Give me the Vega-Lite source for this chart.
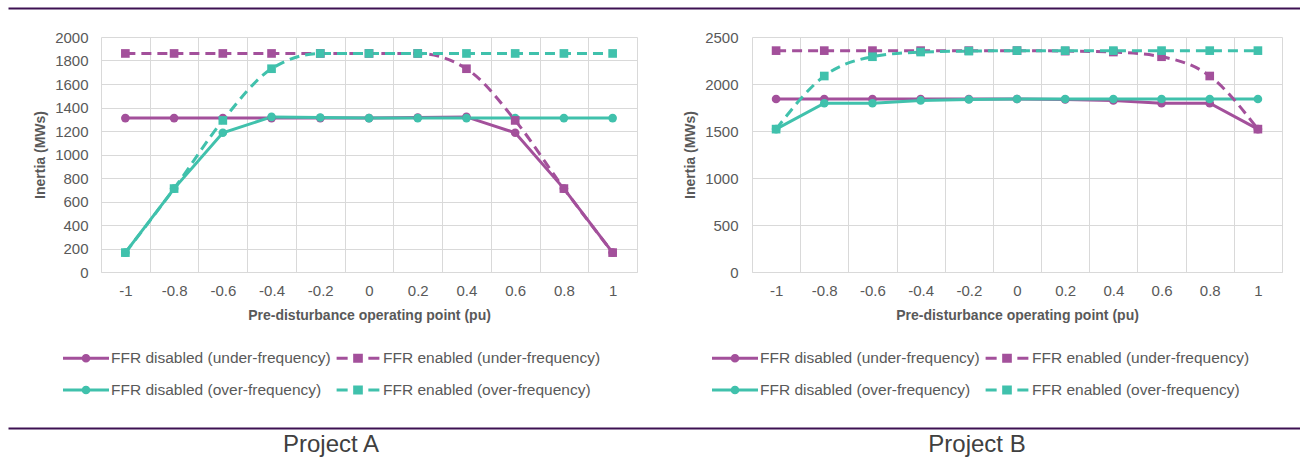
{
  "$schema": "https://vega.github.io/schema/vega-lite/v6.json",
  "padding": {"left": 8, "top": 8, "right": 0, "bottom": 0},
  "background": "white",
  "config": {
    "font": "Liberation Sans",
    "view": {"stroke": null},
    "axis": {
      "labelFont": "Liberation Sans",
      "titleFont": "Liberation Sans",
      "labelColor": "#595959",
      "titleColor": "#595959",
      "labelFontSize": 15,
      "titleFontSize": 14,
      "titleFontWeight": "bold",
      "gridColor": "#D9D9D9",
      "domainColor": "#D9D9D9",
      "ticks": false,
      "tickSize": 0
    },
    "legend": {
      "labelFont": "Liberation Sans",
      "labelFontSize": 15.5,
      "labelColor": "#595959"
    }
  },
  "datasets": {
    "A": [
      {"pu": -1, "series": "FFR disabled (under-frequency)", "inertia": 1310},
      {"pu": -0.8, "series": "FFR disabled (under-frequency)", "inertia": 1310},
      {"pu": -0.6, "series": "FFR disabled (under-frequency)", "inertia": 1310},
      {"pu": -0.4, "series": "FFR disabled (under-frequency)", "inertia": 1310},
      {"pu": -0.2, "series": "FFR disabled (under-frequency)", "inertia": 1310},
      {"pu": 0, "series": "FFR disabled (under-frequency)", "inertia": 1310},
      {"pu": 0.2, "series": "FFR disabled (under-frequency)", "inertia": 1315},
      {"pu": 0.4, "series": "FFR disabled (under-frequency)", "inertia": 1320},
      {"pu": 0.6, "series": "FFR disabled (under-frequency)", "inertia": 1185},
      {"pu": 0.8, "series": "FFR disabled (under-frequency)", "inertia": 710},
      {"pu": 1, "series": "FFR disabled (under-frequency)", "inertia": 165},
      {"pu": -1, "series": "FFR enabled (under-frequency)", "inertia": 1860},
      {"pu": -0.8, "series": "FFR enabled (under-frequency)", "inertia": 1860},
      {"pu": -0.6, "series": "FFR enabled (under-frequency)", "inertia": 1860},
      {"pu": -0.4, "series": "FFR enabled (under-frequency)", "inertia": 1860},
      {"pu": -0.2, "series": "FFR enabled (under-frequency)", "inertia": 1860},
      {"pu": 0, "series": "FFR enabled (under-frequency)", "inertia": 1860},
      {"pu": 0.2, "series": "FFR enabled (under-frequency)", "inertia": 1860},
      {"pu": 0.4, "series": "FFR enabled (under-frequency)", "inertia": 1730},
      {"pu": 0.6, "series": "FFR enabled (under-frequency)", "inertia": 1290},
      {"pu": 0.8, "series": "FFR enabled (under-frequency)", "inertia": 710},
      {"pu": 1, "series": "FFR enabled (under-frequency)", "inertia": 165},
      {"pu": -1, "series": "FFR disabled (over-frequency)", "inertia": 165},
      {"pu": -0.8, "series": "FFR disabled (over-frequency)", "inertia": 710},
      {"pu": -0.6, "series": "FFR disabled (over-frequency)", "inertia": 1185},
      {"pu": -0.4, "series": "FFR disabled (over-frequency)", "inertia": 1320},
      {"pu": -0.2, "series": "FFR disabled (over-frequency)", "inertia": 1315},
      {"pu": 0, "series": "FFR disabled (over-frequency)", "inertia": 1310},
      {"pu": 0.2, "series": "FFR disabled (over-frequency)", "inertia": 1310},
      {"pu": 0.4, "series": "FFR disabled (over-frequency)", "inertia": 1310},
      {"pu": 0.6, "series": "FFR disabled (over-frequency)", "inertia": 1310},
      {"pu": 0.8, "series": "FFR disabled (over-frequency)", "inertia": 1310},
      {"pu": 1, "series": "FFR disabled (over-frequency)", "inertia": 1310},
      {"pu": -1, "series": "FFR enabled (over-frequency)", "inertia": 165},
      {"pu": -0.8, "series": "FFR enabled (over-frequency)", "inertia": 710},
      {"pu": -0.6, "series": "FFR enabled (over-frequency)", "inertia": 1290},
      {"pu": -0.4, "series": "FFR enabled (over-frequency)", "inertia": 1730},
      {"pu": -0.2, "series": "FFR enabled (over-frequency)", "inertia": 1860},
      {"pu": 0, "series": "FFR enabled (over-frequency)", "inertia": 1860},
      {"pu": 0.2, "series": "FFR enabled (over-frequency)", "inertia": 1860},
      {"pu": 0.4, "series": "FFR enabled (over-frequency)", "inertia": 1860},
      {"pu": 0.6, "series": "FFR enabled (over-frequency)", "inertia": 1860},
      {"pu": 0.8, "series": "FFR enabled (over-frequency)", "inertia": 1860},
      {"pu": 1, "series": "FFR enabled (over-frequency)", "inertia": 1860}
    ],
    "B": [
      {"pu": -1, "series": "FFR disabled (under-frequency)", "inertia": 1840},
      {"pu": -0.8, "series": "FFR disabled (under-frequency)", "inertia": 1840},
      {"pu": -0.6, "series": "FFR disabled (under-frequency)", "inertia": 1840},
      {"pu": -0.4, "series": "FFR disabled (under-frequency)", "inertia": 1840},
      {"pu": -0.2, "series": "FFR disabled (under-frequency)", "inertia": 1840},
      {"pu": 0, "series": "FFR disabled (under-frequency)", "inertia": 1840},
      {"pu": 0.2, "series": "FFR disabled (under-frequency)", "inertia": 1835},
      {"pu": 0.4, "series": "FFR disabled (under-frequency)", "inertia": 1825},
      {"pu": 0.6, "series": "FFR disabled (under-frequency)", "inertia": 1795},
      {"pu": 0.8, "series": "FFR disabled (under-frequency)", "inertia": 1795},
      {"pu": 1, "series": "FFR disabled (under-frequency)", "inertia": 1520},
      {"pu": -1, "series": "FFR enabled (under-frequency)", "inertia": 2355},
      {"pu": -0.8, "series": "FFR enabled (under-frequency)", "inertia": 2355},
      {"pu": -0.6, "series": "FFR enabled (under-frequency)", "inertia": 2355},
      {"pu": -0.4, "series": "FFR enabled (under-frequency)", "inertia": 2355},
      {"pu": -0.2, "series": "FFR enabled (under-frequency)", "inertia": 2355},
      {"pu": 0, "series": "FFR enabled (under-frequency)", "inertia": 2355},
      {"pu": 0.2, "series": "FFR enabled (under-frequency)", "inertia": 2350},
      {"pu": 0.4, "series": "FFR enabled (under-frequency)", "inertia": 2340},
      {"pu": 0.6, "series": "FFR enabled (under-frequency)", "inertia": 2290},
      {"pu": 0.8, "series": "FFR enabled (under-frequency)", "inertia": 2085},
      {"pu": 1, "series": "FFR enabled (under-frequency)", "inertia": 1520},
      {"pu": -1, "series": "FFR disabled (over-frequency)", "inertia": 1520},
      {"pu": -0.8, "series": "FFR disabled (over-frequency)", "inertia": 1795},
      {"pu": -0.6, "series": "FFR disabled (over-frequency)", "inertia": 1795},
      {"pu": -0.4, "series": "FFR disabled (over-frequency)", "inertia": 1825},
      {"pu": -0.2, "series": "FFR disabled (over-frequency)", "inertia": 1835},
      {"pu": 0, "series": "FFR disabled (over-frequency)", "inertia": 1840},
      {"pu": 0.2, "series": "FFR disabled (over-frequency)", "inertia": 1840},
      {"pu": 0.4, "series": "FFR disabled (over-frequency)", "inertia": 1840},
      {"pu": 0.6, "series": "FFR disabled (over-frequency)", "inertia": 1840},
      {"pu": 0.8, "series": "FFR disabled (over-frequency)", "inertia": 1840},
      {"pu": 1, "series": "FFR disabled (over-frequency)", "inertia": 1840},
      {"pu": -1, "series": "FFR enabled (over-frequency)", "inertia": 1520},
      {"pu": -0.8, "series": "FFR enabled (over-frequency)", "inertia": 2085},
      {"pu": -0.6, "series": "FFR enabled (over-frequency)", "inertia": 2290},
      {"pu": -0.4, "series": "FFR enabled (over-frequency)", "inertia": 2340},
      {"pu": -0.2, "series": "FFR enabled (over-frequency)", "inertia": 2350},
      {"pu": 0, "series": "FFR enabled (over-frequency)", "inertia": 2355},
      {"pu": 0.2, "series": "FFR enabled (over-frequency)", "inertia": 2355},
      {"pu": 0.4, "series": "FFR enabled (over-frequency)", "inertia": 2355},
      {"pu": 0.6, "series": "FFR enabled (over-frequency)", "inertia": 2355},
      {"pu": 0.8, "series": "FFR enabled (over-frequency)", "inertia": 2355},
      {"pu": 1, "series": "FFR enabled (over-frequency)", "inertia": 2355}
    ],
    "titles": [
      {"project": "Project A"},
      {"project": "Project B"}
    ],
    "none": []
  },
  "spacing": 29,
  "vconcat": [
    {
      "spacing": 21,
      "vconcat": [
        {
          "width": 1292,
          "height": 1,
          "data": {"name": "none"},
          "mark": "point",
          "encoding": {
            "x": {
              "field": "project",
              "type": "nominal",
              "scale": {"domain": ["Project A", "Project B"]},
              "axis": {"orient": "top", "labels": false, "grid": false, "title": null, "domainColor": "#3D1152", "domainWidth": 2}
            }
          }
        },
        {
          "spacing": 24,
          "hconcat": [
            {
              "width": 1,
              "height": 1,
              "data": {"name": "none"},
              "mark": "point"
            },
            {
              "spacing": 46,
              "resolve": {"scale": {"color": "independent", "x": "independent", "y": "independent"}, "legend": {"color": "independent"}},
              "hconcat": [
                {
                  "width": 536,
                  "height": 235,
                  "data": {"name": "A"},
                  "encoding": {
                    "x": {
                      "field": "pu",
                      "type": "ordinal",
                      "bandPosition": 0.5,
                      "scale": {"type": "band", "paddingInner": 0, "paddingOuter": 0},
                      "axis": {"title": "Pre-disturbance operating point (pu)", "tickBand": "extent", "grid": true, "labelAngle": 0, "labelPadding": 11, "titlePadding": 10}
                    },
                    "y": {
                      "field": "inertia",
                      "type": "quantitative",
                      "scale": {"domain": [0, 2000], "nice": false},
                      "axis": {"title": "Inertia (MWs)", "format": "d", "values": [0, 200, 400, 600, 800, 1000, 1200, 1400, 1600, 1800, 2000], "domain": false, "labelPadding": 13, "titlePadding": 7}
                    },
                    "color": {
                      "field": "series",
                      "type": "nominal",
                      "scale": {"domain": ["FFR disabled (under-frequency)", "FFR enabled (under-frequency)", "FFR disabled (over-frequency)", "FFR enabled (over-frequency)"], "range": ["#A3509B", "#A3509B", "#40C1AC", "#40C1AC"]},
                      "legend": {
                        "orient": "none", "legendX": -38, "legendY": 298, "direction": "horizontal", "columns": 2, "title": null,
                        "symbolSize": 2116, "symbolStrokeWidth": 0, "labelOffset": 2, "columnPadding": 4, "rowPadding": -7, "labelLimit": 400,
                        "encode": {"symbols": {"update": {
                          "shape": {"signal": "indexof(datum.value, 'disabled') >= 0 ? 'M-1,-0.07H1V0.07H-1Z M0.19,0A0.19,0.19 0 1 1 -0.19,0A0.19,0.19 0 1 1 0.19,0Z' : 'M-0.93,-0.07H-0.45V0.07H-0.93Z M-0.21,-0.2H0.21V0.2H-0.21Z M0.45,-0.07H0.93V0.07H0.45Z'"},
                          "fill": {"signal": "indexof(datum.value, 'under') >= 0 ? '#A3509B' : '#40C1AC'"},
                          "stroke": {"value": null},
                          "strokeWidth": {"value": 0},
                          "strokeDash": {"value": []},
                          "opacity": {"value": 1},
                          "fillOpacity": {"value": 1}
                        }}}
                      }
                    }
                  },
                  "layer": [
                    {
                      "transform": [{"filter": "indexof(datum.series, 'disabled') >= 0"}],
                      "mark": {"type": "line", "strokeWidth": 3}
                    },
                    {
                      "transform": [{"filter": "indexof(datum.series, 'enabled') >= 0 && indexof(datum.series, 'disabled') < 0"}],
                      "mark": {"type": "line", "strokeWidth": 3, "strokeDash": [10, 6], "interpolate": "monotone"}
                    },
                    {
                      "transform": [{"filter": "indexof(datum.series, 'disabled') >= 0"}],
                      "mark": {"type": "point", "shape": "circle", "filled": true, "size": 75, "opacity": 1}
                    },
                    {
                      "transform": [{"filter": "indexof(datum.series, 'enabled') >= 0 && indexof(datum.series, 'disabled') < 0"}],
                      "mark": {"type": "point", "shape": "square", "filled": true, "size": 75, "opacity": 1}
                    }
                  ]
                },
                {
                  "width": 530,
                  "height": 235,
                  "data": {"name": "B"},
                  "encoding": {
                    "x": {
                      "field": "pu",
                      "type": "ordinal",
                      "bandPosition": 0.5,
                      "scale": {"type": "band", "paddingInner": 0, "paddingOuter": 0},
                      "axis": {"title": "Pre-disturbance operating point (pu)", "tickBand": "extent", "grid": true, "labelAngle": 0, "labelPadding": 11, "titlePadding": 10}
                    },
                    "y": {
                      "field": "inertia",
                      "type": "quantitative",
                      "scale": {"domain": [0, 2500], "nice": false},
                      "axis": {"title": "Inertia (MWs)", "format": "d", "values": [0, 500, 1000, 1500, 2000, 2500], "domain": false, "labelPadding": 14, "titlePadding": 7}
                    },
                    "color": {
                      "field": "series",
                      "type": "nominal",
                      "scale": {"domain": ["FFR disabled (under-frequency)", "FFR enabled (under-frequency)", "FFR disabled (over-frequency)", "FFR enabled (over-frequency)"], "range": ["#A3509B", "#A3509B", "#40C1AC", "#40C1AC"]},
                      "legend": {
                        "orient": "none", "legendX": -40, "legendY": 298, "direction": "horizontal", "columns": 2, "title": null,
                        "symbolSize": 2116, "symbolStrokeWidth": 0, "labelOffset": 2, "columnPadding": 4, "rowPadding": -7, "labelLimit": 400,
                        "encode": {"symbols": {"update": {
                          "shape": {"signal": "indexof(datum.value, 'disabled') >= 0 ? 'M-1,-0.07H1V0.07H-1Z M0.19,0A0.19,0.19 0 1 1 -0.19,0A0.19,0.19 0 1 1 0.19,0Z' : 'M-0.93,-0.07H-0.45V0.07H-0.93Z M-0.21,-0.2H0.21V0.2H-0.21Z M0.45,-0.07H0.93V0.07H0.45Z'"},
                          "fill": {"signal": "indexof(datum.value, 'under') >= 0 ? '#A3509B' : '#40C1AC'"},
                          "stroke": {"value": null},
                          "strokeWidth": {"value": 0},
                          "strokeDash": {"value": []},
                          "opacity": {"value": 1},
                          "fillOpacity": {"value": 1}
                        }}}
                      }
                    }
                  },
                  "layer": [
                    {
                      "transform": [{"filter": "indexof(datum.series, 'disabled') >= 0"}],
                      "mark": {"type": "line", "strokeWidth": 3}
                    },
                    {
                      "transform": [{"filter": "indexof(datum.series, 'enabled') >= 0 && indexof(datum.series, 'disabled') < 0"}],
                      "mark": {"type": "line", "strokeWidth": 3, "strokeDash": [10, 6], "interpolate": "monotone"}
                    },
                    {
                      "transform": [{"filter": "indexof(datum.series, 'disabled') >= 0"}],
                      "mark": {"type": "point", "shape": "circle", "filled": true, "size": 75, "opacity": 1}
                    },
                    {
                      "transform": [{"filter": "indexof(datum.series, 'enabled') >= 0 && indexof(datum.series, 'disabled') < 0"}],
                      "mark": {"type": "point", "shape": "square", "filled": true, "size": 75, "opacity": 1}
                    }
                  ]
                }
              ]
            }
          ]
        }
      ]
    },
    {
      "width": 1292,
      "height": 34,
      "data": {"name": "titles"},
      "mark": {"type": "text", "fontSize": 24, "color": "#404040", "font": "Liberation Sans"},
      "encoding": {
        "x": {
          "field": "project",
          "type": "nominal",
          "axis": {"orient": "top", "labels": false, "grid": false, "title": null, "domainColor": "#3D1152", "domainWidth": 2}
        },
        "text": {"field": "project"}
      }
    }
  ]
}
